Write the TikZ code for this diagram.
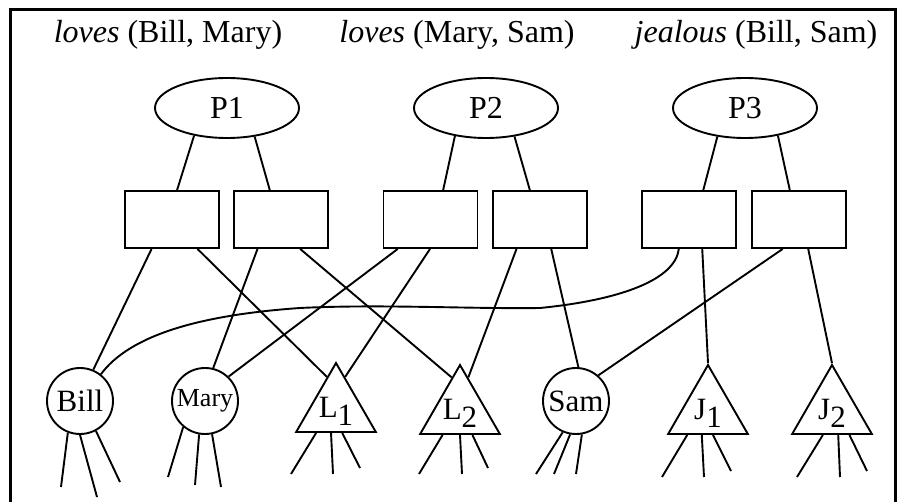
\documentclass[tikz,border=0pt]{standalone}
\usepackage{fontspec}
\setmainfont{Liberation Serif}
\usetikzlibrary{shapes.geometric,calc}
\begin{document}
\begin{tikzpicture}[x=1pt,y=-1pt,line width=1.9pt,
  prop/.style={ellipse,draw,minimum width=144pt,minimum height=60pt,inner sep=0pt,font=\fontsize{32}{36}\selectfont},
  slot/.style={draw,minimum width=94pt,minimum height=57pt,inner sep=0pt},
  ent/.style={circle,draw,minimum size=66pt,inner sep=0pt,font=\fontsize{31}{36}\selectfont},
  tri/.style={regular polygon,regular polygon sides=3,draw,minimum size=92pt,inner sep=0pt,font=\fontsize{31}{36}\selectfont},
  lab/.style={anchor=base,inner sep=0pt,font=\fontsize{32}{38}\selectfont}]
\useasboundingbox (0,0) rectangle (899,502);
\begin{scope}
\clip (0,0) rectangle (899,502);
\draw[line width=3pt] (10,10) rectangle (895,530);
\end{scope}
% labels
\node[lab] (t1) at (168,43) {\textit{loves} (Bill, Mary)};
\node[lab] (t2) at (457,43) {\textit{loves} (Mary, Sam)};
\node[lab] (t3) at (756,43) {\textit{jealous} (Bill, Sam)};
% propositions
\node[prop] (P1) at (227,108) {P1};
\node[prop] (P2) at (486,108) {P2};
\node[prop] (P3) at (745,108) {P3};
% slots
\node[slot] (b1) at (172,219.5) {};
\node[slot] (b2) at (281,219.5) {};
\node[slot] (b3) at (430.5,219.5) {};
\node[slot] (b4) at (540,219.5) {};
\node[slot] (b5) at (689,219.5) {};
\node[slot] (b6) at (799,219.5) {};
% entities
\node[ent] (Bill) at (80,401) {Bill};
\node[ent,font=\fontsize{26}{30}\selectfont] (Mary) at (205,401) {Mary};
\node[ent] (Sam) at (576,401) {Sam};
\node[tri] (L1) at (336,409) {\smash{\makebox[0pt]{\raisebox{-8pt}{L\raisebox{-8pt}{1}}}}};
\node[tri] (L2) at (460,411) {\smash{\makebox[0pt]{\raisebox{-8pt}{L\raisebox{-8pt}{2}}}}};
\node[tri] (J1) at (708,411) {\smash{\makebox[0pt]{\raisebox{-8pt}{J\raisebox{-8pt}{1}}}}};
\node[tri] (J2) at (832,411) {\smash{\makebox[0pt]{\raisebox{-8pt}{J\raisebox{-8pt}{2}}}}};
% proposition to slot
\draw (P1.220) -- ($(b1.north west)!0.553!(b1.north east)$);
\draw (P1.314) -- ($(b2.north west)!0.383!(b2.north east)$);
\draw (P2.222) -- ($(b3.north west)!0.632!(b3.north east)$);
\draw (P2.315) -- ($(b4.north west)!0.394!(b4.north east)$);
\draw (P3.226) -- ($(b5.north west)!0.649!(b5.north east)$);
\draw (P3.320) -- ($(b6.north west)!0.404!(b6.north east)$);
% slot to entity
\draw ($(b1.south west)!0.287!(b1.south east)$) -- (Bill.67);
\draw ($(b1.south west)!0.766!(b1.south east)$) -- ($(L1.corner 1)!0.22!(L1.corner 2)$);
\draw ($(b2.south west)!0.255!(b2.south east)$) -- (Mary.76);
\draw ($(b2.south west)!0.70!(b2.south east)$) -- ($(L2.corner 1)!0.2!(L2.corner 2)$);
\draw ($(b3.south west)!0.158!(b3.south east)$) -- (Mary.46);
\draw ($(b3.south west)!0.495!(b3.south east)$) -- ($(L1.corner 1)!0.22!(L1.corner 3)$);
\draw ($(b4.south west)!0.255!(b4.south east)$) -- ($(L2.corner 1)!0.2!(L2.corner 3)$);
\draw ($(b4.south west)!0.617!(b4.south east)$) -- (Sam.86);
\draw ($(b5.south west)!0.394!(b5.south east)$) .. controls (675,280) and (620,300) .. (540,308)
  .. controls (470,309) and (380,304) .. (300,308)
  .. controls (200,315) and (130,335) .. (Bill.52);
\draw ($(b5.south west)!0.638!(b5.south east)$) -- (J1.corner 1);
\draw ($(b6.south west)!0.33!(b6.south east)$) -- (Sam.49);
\draw ($(b6.south west)!0.596!(b6.south east)$) -- (J2.corner 1);
% dangling ends
\coordinate (bi1) at (61,487); \coordinate (bi2) at (97,497); \coordinate (bi3) at (120,482);
\coordinate (ma1) at (168,477); \coordinate (ma2) at (195,485); \coordinate (ma3) at (221,487);
\coordinate (la1) at (291,474); \coordinate (la2) at (333,474); \coordinate (la3) at (360,468);
\coordinate (lb1) at (419,474); \coordinate (lb2) at (462,474); \coordinate (lb3) at (488,468);
\coordinate (sa1) at (536,474); \coordinate (sa2) at (554,474); \coordinate (sa3) at (576,474);
\coordinate (ja1) at (662,477); \coordinate (ja2) at (704,477); \coordinate (ja3) at (731,471);
\coordinate (jb1) at (797,477); \coordinate (jb2) at (840,477); \coordinate (jb3) at (867,471);
\draw (Bill.249) -- (bi1); \draw (Bill.270) -- (bi2); \draw (Bill.298) -- (bi3);
\draw (Mary.230) -- (ma1); \draw (Mary.260) -- (ma2); \draw (Mary.282) -- (ma3);
\draw (Sam.247) -- (sa1); \draw (Sam.260) -- (sa2); \draw (Sam.280) -- (sa3);
\draw ($(L1.corner 2)!0.26!(L1.corner 3)$) -- (la1);
\draw ($(L1.corner 2)!0.44!(L1.corner 3)$) -- (la2);
\draw ($(L1.corner 2)!0.575!(L1.corner 3)$) -- (la3);
\draw ($(L2.corner 2)!0.29!(L2.corner 3)$) -- (lb1);
\draw ($(L2.corner 2)!0.5!(L2.corner 3)$) -- (lb2);
\draw ($(L2.corner 2)!0.65!(L2.corner 3)$) -- (lb3);
\draw ($(J1.corner 2)!0.25!(J1.corner 3)$) -- (ja1);
\draw ($(J1.corner 2)!0.425!(J1.corner 3)$) -- (ja2);
\draw ($(J1.corner 2)!0.56!(J1.corner 3)$) -- (ja3);
\draw ($(J2.corner 2)!0.39!(J2.corner 3)$) -- (jb1);
\draw ($(J2.corner 2)!0.575!(J2.corner 3)$) -- (jb2);
\draw ($(J2.corner 2)!0.71!(J2.corner 3)$) -- (jb3);
\end{tikzpicture}
\end{document}
